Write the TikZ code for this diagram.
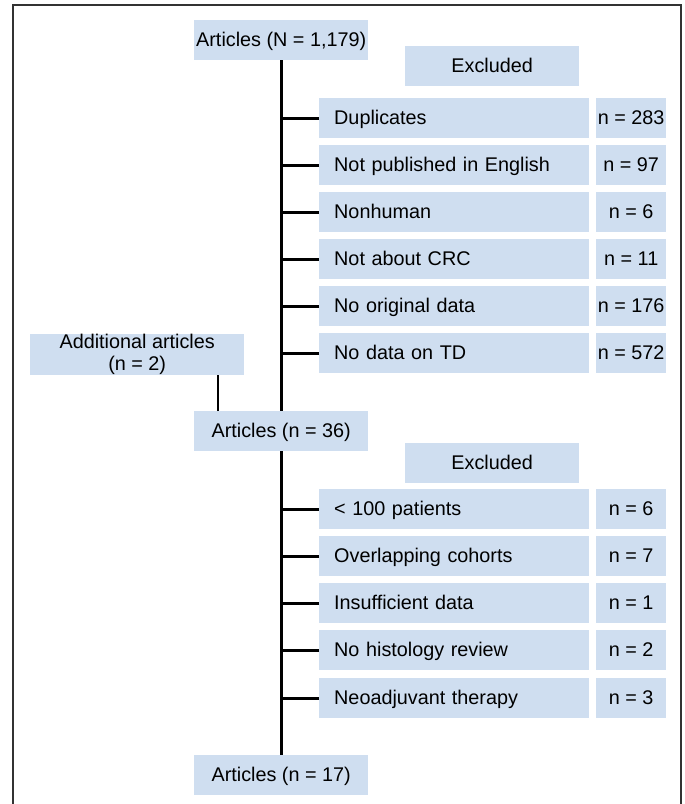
\documentclass[tikz,border=0pt]{standalone}
\usepackage{fontspec}
\setmainfont{Liberation Sans}
\definecolor{boxblue}{RGB}{207,222,240}
\definecolor{framegray}{RGB}{50,50,50}
\tikzset{
  plainbase/.style={fill=boxblue, inner sep=0pt, anchor=north west, minimum height=40pt, font=\fontsize{19.8}{22}\selectfont},
  base/.style={plainbase, text height=14pt, text depth=2pt},
  mainbox/.style={base, minimum width=174pt},
  exclbox/.style={base, minimum width=174pt},
  reason/.style={base, text width=240pt, inner xsep=15pt, inner ysep=0pt, align=left},
  countbox/.style={base, minimum width=70pt},
  conn/.style={line width=2.6pt, black},
}
\begin{document}
\begin{tikzpicture}[x=1pt, y=-1pt]
\useasboundingbox (0,0) rectangle (685,804);
\clip (0,0) rectangle (685,804);
\draw[framegray, line width=1.6pt] (13,820) -- (13,5) -- (681,5) -- (681,820);

% top section
\node[mainbox] (a1) at (194,20) {Articles (N = 1,179)};
\node[exclbox] (ex1) at (405,46) {Excluded};
\node[reason] (r1) at (319,98) {Duplicates};
\node[countbox] (c1) at (596,98) {n = 283};
\node[reason] (r2) at (319,145) {Not published in English};
\node[countbox] (c2) at (596,145) {n = 97};
\node[reason] (r3) at (319,192) {Nonhuman};
\node[countbox] (c3) at (596,192) {n = 6};
\node[reason] (r4) at (319,239) {Not about CRC};
\node[countbox] (c4) at (596,239) {n = 11};
\node[reason] (r5) at (319,286) {No original data};
\node[countbox] (c5) at (596,286) {n = 176};
\node[reason] (r6) at (319,333) {No data on TD};
\node[countbox] (c6) at (596,333) {n = 572};

\node[plainbase, minimum width=214pt, align=center] (add) at (30,334) {Additional articles\\(n = 2)};

% middle section
\node[mainbox] (a2) at (194,411) {Articles (n = 36)};
\node[exclbox] (ex2) at (405,443) {Excluded};
\node[reason] (s1) at (319,489) {< 100 patients};
\node[countbox] (d1) at (596,489) {n = 6};
\node[reason] (s2) at (319,536) {Overlapping cohorts};
\node[countbox] (d2) at (596,536) {n = 7};
\node[reason] (s3) at (319,583) {Insufficient data};
\node[countbox] (d3) at (596,583) {n = 1};
\node[reason] (s4) at (319,630) {No histology review};
\node[countbox] (d4) at (596,630) {n = 2};
\node[reason] (s5) at (319,678) {Neoadjuvant therapy};
\node[countbox] (d5) at (596,678) {n = 3};

\node[mainbox] (a3) at (194,755) {Articles (n = 17)};

% connectors
\draw[conn] (a1.south) -- (a2.north);
\draw[conn] (a2.south) -- (a3.north);
\foreach \r in {r1,r2,r3,r4,r5,r6}{
  \draw[conn] (\r.west) -- (\r.west -| a1.south);
}
\foreach \s in {s1,s2,s3,s4,s5}{
  \draw[conn] (\s.west) -- (\s.west -| a2.south);
}
\draw[conn] ([xshift=24pt]a2.north west) -- ([xshift=24pt]a2.north west |- add.south);
\end{tikzpicture}
\end{document}
